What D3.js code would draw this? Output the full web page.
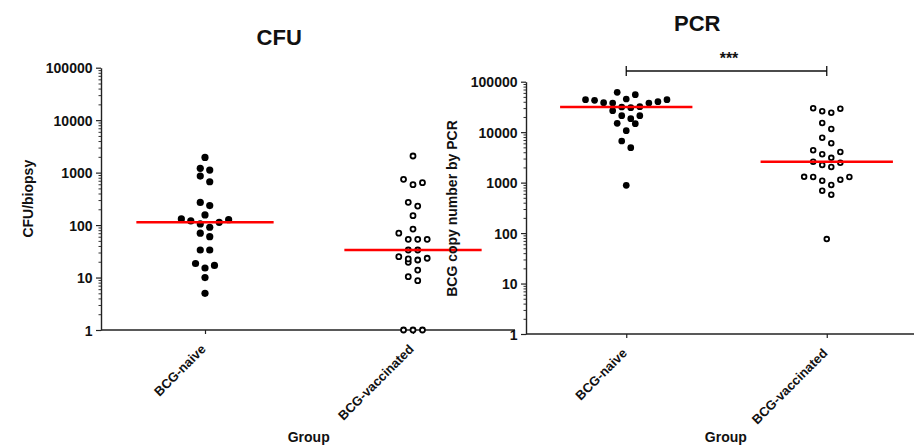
<!DOCTYPE html>
<html><head><meta charset="utf-8">
<script src="https://cdn.jsdelivr.net/npm/d3@7"></script>
<style>
body{margin:0;background:#fff}
text{font-family:"Liberation Sans",Arial,Helvetica,sans-serif;font-weight:bold;fill:#111}
</style>
</head><body>
<svg id="chart" width="914" height="445"></svg>
<script>
// ---------- data ----------
const groups = ["BCG-naive", "BCG-vaccinated"];
const cfuNaive = [1950, 1210, 1120, 860, 670, 270, 235, 156, 131, 120, 105, 113, 127, 91, 70, 60, 33.5, 33.5, 18.5, 17, 15.2, 10, 5];
const cfuVaccinated = [2075, 746, 642, 589, 272, 230, 151, 84, 70, 53.6, 53.6, 53.6, 33.5, 33.5, 25, 23.3, 21.6, 19.5, 22.6, 13.9, 10.4, 8.7, 1, 1, 1];
const pcrNaive = [43950, 40150, 37840, 55240, 45400, 61660, 37840, 38370, 42780, 43950, 31970, 30530, 31540, 26620, 21180, 18490, 21180, 14990, 14710, 10690, 6680, 4920, 885];
const pcrVaccinated = [29160, 25890, 24300, 29720, 15200, 11550, 7770, 6010, 4045, 4370, 3640, 3100, 2600, 2234, 2040, 2483, 1292, 1143, 897, 1092, 1292, 1300, 692, 576, 76];
const yTickValues = [1, 10, 100, 1000, 10000, 100000];
const yTickLabels = ["1", "10", "100", "1000", "10000", "100000"];
const panelTitles = ["CFU", "PCR"];
const yTitles = ["CFU/biopsy", "BCG copy number by PCR"];
const xTitle = "Group";
const significanceLabel = "***";

// ---------- drawing ----------
const svg = d3.select("#chart");

function swarm(values, y, h) {
  const items = values.map(v => ({ v, py: y(v) })).sort((a, b) => a.v - b.v);
  const rows = [];
  let cur = null;
  for (const it of items) {
    if (!cur || cur.start - it.py > h) { cur = { start: it.py, pts: [] }; rows.push(cur); }
    cur.pts.push(it);
  }
  rows.forEach(r => {
    const n = r.pts.length;
    r.pts.forEach((p, j) => {
      if (n % 2) p.k = j === 0 ? 0 : Math.ceil(j / 2) * (j % 2 ? 1 : -1);
      else p.k = (Math.floor(j / 2) + 0.5) * (j % 2 ? -1 : 1);
    });
  });
  return items;
}

function panel(c) {
  const g = svg.append("g");
  const y = d3.scaleLog().domain([1, 100000]).range([c.yBot, c.yTop]);
  const x = d3.scalePoint().domain(groups).range([c.x0, c.xRangeEnd]).padding(0.5);

  // minor log ticks
  const minors = [];
  for (let e = 0; e < 5; e++) for (let m = 2; m <= 9; m++) minors.push(m * Math.pow(10, e));
  const minorAxis = g.append("g").attr("transform", `translate(${c.x0},0)`)
    .call(d3.axisLeft(y).tickValues(minors).tickSize(2.5).tickFormat(""));
  minorAxis.select(".domain").remove();
  minorAxis.selectAll("line").attr("stroke", "#333").attr("stroke-width", 1);

  // major y axis
  const yAxis = g.append("g").attr("transform", `translate(${c.x0},0)`)
    .call(d3.axisLeft(y).tickValues(yTickValues).tickSize(5).tickSizeOuter(0)
      .tickFormat((d, i) => yTickLabels[i]));
  yAxis.select(".domain").attr("stroke", "#222").attr("stroke-width", 1.4);
  yAxis.selectAll(".tick line").attr("stroke", "#222").attr("stroke-width", 1.2);
  yAxis.selectAll(".tick text").attr("x", -8.5).attr("dy", "0.36em")
    .style("font-size", "14px").style("font-family", "'Liberation Sans',Arial,sans-serif")
    .style("font-weight", "bold").attr("fill", "#111");

  // x axis
  const xAxis = g.append("g").attr("transform", `translate(0,${c.yBot})`)
    .call(d3.axisBottom(x).tickSize(4).tickSizeOuter(0));
  xAxis.select(".domain").remove();
  xAxis.selectAll(".tick line").attr("stroke", "#222").attr("stroke-width", 1.2);
  xAxis.selectAll(".tick text")
    .attr("text-anchor", "end").attr("dy", 0).attr("y", 0)
    .attr("transform", "translate(1,20) rotate(-45)")
    .style("font-size", "13px").style("font-family", "'Liberation Sans',Arial,sans-serif")
    .style("font-weight", "bold").attr("fill", "#111");
  g.append("line").attr("x1", c.x0).attr("x2", c.xLineEnd).attr("y1", c.yBot).attr("y2", c.yBot)
    .attr("stroke", "#222").attr("stroke-width", 1.4);

  // titles
  g.append("text").attr("x", c.titleX).attr("y", c.titleY).attr("text-anchor", "middle")
    .style("font-size", "22px").text(c.title);
  g.append("text").attr("transform", `translate(${c.yTitleX},${c.yTitleY}) rotate(-90)`)
    .attr("text-anchor", "middle").style("font-size", "14px").text(c.yTitle);
  g.append("text").attr("x", c.xTitleX).attr("y", 441.5).attr("text-anchor", "middle")
    .style("font-size", "14px").text(xTitle);

  // points
  const h = c.spacing * 0.93;
  c.series.forEach((vals, gi) => {
    const pts = swarm(vals, y, h);
    const cx = x(groups[gi]);
    const sel = g.append("g").selectAll("circle").data(pts).join("circle")
      .attr("cx", d => cx + d.k * c.spacing)
      .attr("cy", d => d.py);
    if (gi === 0) sel.attr("r", c.rFill).attr("fill", "#000");
    else sel.attr("r", c.rOpen).attr("fill", "#fff").attr("stroke", "#000").attr("stroke-width", 1.8);
    // median line
    const my = y(d3.median(vals));
    g.append("line").attr("x1", cx - 0.33 * x.step()).attr("x2", cx + 0.33 * x.step())
      .attr("y1", my).attr("y2", my).attr("stroke", "#ff0000").attr("stroke-width", 2.6);
  });

  if (c.significance) {
    const a = x(groups[0]), b = x(groups[1]), by = 71;
    g.append("path").attr("d", `M${a},${by - 5}V${by + 5}M${a},${by}H${b}M${b},${by - 5}V${by + 5}`)
      .attr("fill", "none").attr("stroke", "#111").attr("stroke-width", 1.3);
    g.append("text").attr("x", (a + b) / 2 + 2.5).attr("y", 63.5).attr("text-anchor", "middle")
      .style("font-size", "16px").attr("fill", "#333").text(significanceLabel);
  }
}

panel({
  x0: 101, xRangeEnd: 517, xLineEnd: 515, yTop: 67.7, yBot: 330,
  series: [cfuNaive, cfuVaccinated], spacing: 9.46, rFill: 3.6, rOpen: 2.5,
  title: panelTitles[0], titleX: 279.2, titleY: 45,
  yTitle: yTitles[0], yTitleX: 33, yTitleY: 198.7, xTitleX: 308.7
});
panel({
  x0: 526, xRangeEnd: 927, xLineEnd: 914, yTop: 81.7, yBot: 334,
  series: [pcrNaive, pcrVaccinated], spacing: 9.05, rFill: 3.35, rOpen: 2.35,
  title: panelTitles[1], titleX: 697.2, titleY: 30.7,
  yTitle: yTitles[1], yTitleX: 456.5, yTitleY: 208.5, xTitleX: 725.8,
  significance: true
});
</script>
</body></html>
